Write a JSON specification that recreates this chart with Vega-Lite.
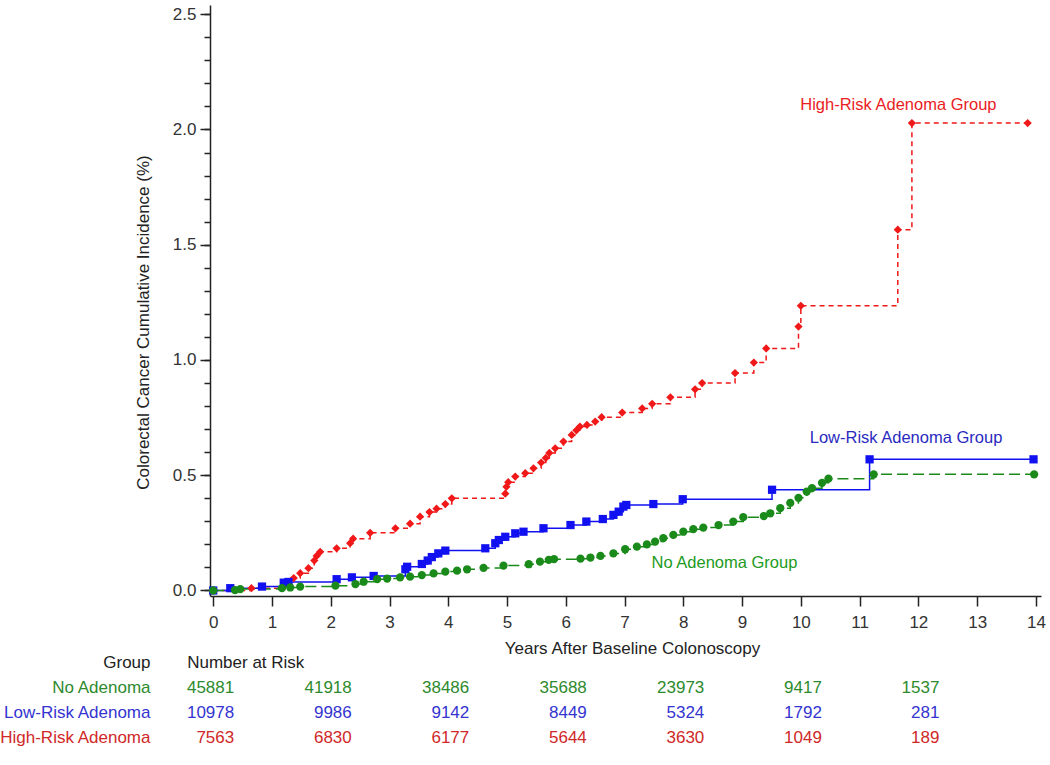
{
  "$schema": "https://vega.github.io/schema/vega-lite/v6.json",
  "width": 831,
  "height": 591,
  "autosize": "none",
  "padding": {"left": 210, "top": 5, "right": 9, "bottom": 169},
  "background": "white",
  "config": {
    "view": {"stroke": null},
    "font": "Liberation Sans",
    "axis": {
      "grid": false,
      "labelFont": "Liberation Sans",
      "labelFontSize": 17,
      "labelColor": "#333333",
      "titleFont": "Liberation Sans",
      "titleFontSize": 17,
      "titleFontWeight": "normal",
      "titleColor": "#222222",
      "domainColor": "#222222",
      "tickColor": "#222222",
      "domainWidth": 1.5,
      "tickWidth": 1.5
    },
    "text": {"font": "Liberation Sans"}
  },
  "datasets": {
    "curves": [
      {"g": "High", "t": 0, "v": 0},
      {"g": "High", "t": 0.65, "v": 0.01},
      {"g": "High", "t": 1.2, "v": 0.02},
      {"g": "High", "t": 1.25, "v": 0.03},
      {"g": "High", "t": 1.37, "v": 0.054},
      {"g": "High", "t": 1.48, "v": 0.075},
      {"g": "High", "t": 1.62, "v": 0.097},
      {"g": "High", "t": 1.72, "v": 0.13},
      {"g": "High", "t": 1.76, "v": 0.15},
      {"g": "High", "t": 1.82, "v": 0.168},
      {"g": "High", "t": 2.1, "v": 0.183},
      {"g": "High", "t": 2.33, "v": 0.205},
      {"g": "High", "t": 2.38, "v": 0.225},
      {"g": "High", "t": 2.67, "v": 0.25},
      {"g": "High", "t": 3.1, "v": 0.27},
      {"g": "High", "t": 3.35, "v": 0.29},
      {"g": "High", "t": 3.52, "v": 0.32},
      {"g": "High", "t": 3.68, "v": 0.34},
      {"g": "High", "t": 3.8, "v": 0.355},
      {"g": "High", "t": 3.95, "v": 0.375},
      {"g": "High", "t": 4.06, "v": 0.4},
      {"g": "High", "t": 4.97, "v": 0.42},
      {"g": "High", "t": 4.99, "v": 0.45},
      {"g": "High", "t": 5.02, "v": 0.47},
      {"g": "High", "t": 5.14, "v": 0.494},
      {"g": "High", "t": 5.31, "v": 0.509},
      {"g": "High", "t": 5.45, "v": 0.53},
      {"g": "High", "t": 5.58, "v": 0.555},
      {"g": "High", "t": 5.66, "v": 0.575},
      {"g": "High", "t": 5.72, "v": 0.597},
      {"g": "High", "t": 5.82, "v": 0.617},
      {"g": "High", "t": 5.96, "v": 0.646},
      {"g": "High", "t": 6.1, "v": 0.675},
      {"g": "High", "t": 6.18, "v": 0.695},
      {"g": "High", "t": 6.24, "v": 0.711},
      {"g": "High", "t": 6.36, "v": 0.718},
      {"g": "High", "t": 6.5, "v": 0.733},
      {"g": "High", "t": 6.61, "v": 0.752},
      {"g": "High", "t": 6.96, "v": 0.772},
      {"g": "High", "t": 7.3, "v": 0.79},
      {"g": "High", "t": 7.47, "v": 0.81},
      {"g": "High", "t": 7.78, "v": 0.838},
      {"g": "High", "t": 8.2, "v": 0.873},
      {"g": "High", "t": 8.32, "v": 0.9},
      {"g": "High", "t": 8.88, "v": 0.943},
      {"g": "High", "t": 9.2, "v": 0.989},
      {"g": "High", "t": 9.41, "v": 1.05},
      {"g": "High", "t": 9.96, "v": 1.145},
      {"g": "High", "t": 10.0, "v": 1.235},
      {"g": "High", "t": 11.65, "v": 1.565},
      {"g": "High", "t": 11.89, "v": 2.028},
      {"g": "High", "t": 13.86, "v": 2.028},
      {"g": "Low", "t": 0, "v": 0},
      {"g": "Low", "t": 0.29, "v": 0.01},
      {"g": "Low", "t": 0.83, "v": 0.017},
      {"g": "Low", "t": 1.2, "v": 0.034},
      {"g": "Low", "t": 1.28, "v": 0.037},
      {"g": "Low", "t": 2.1, "v": 0.049},
      {"g": "Low", "t": 2.36, "v": 0.057},
      {"g": "Low", "t": 2.73, "v": 0.063},
      {"g": "Low", "t": 3.27, "v": 0.092},
      {"g": "Low", "t": 3.3, "v": 0.103},
      {"g": "Low", "t": 3.55, "v": 0.115},
      {"g": "Low", "t": 3.65, "v": 0.13},
      {"g": "Low", "t": 3.72, "v": 0.145},
      {"g": "Low", "t": 3.83, "v": 0.161},
      {"g": "Low", "t": 3.95, "v": 0.173},
      {"g": "Low", "t": 4.63, "v": 0.183},
      {"g": "Low", "t": 4.8, "v": 0.205},
      {"g": "Low", "t": 4.86, "v": 0.219},
      {"g": "Low", "t": 4.97, "v": 0.233},
      {"g": "Low", "t": 5.14, "v": 0.248},
      {"g": "Low", "t": 5.28, "v": 0.255},
      {"g": "Low", "t": 5.62, "v": 0.27},
      {"g": "Low", "t": 6.08, "v": 0.284},
      {"g": "Low", "t": 6.35, "v": 0.299},
      {"g": "Low", "t": 6.63, "v": 0.31},
      {"g": "Low", "t": 6.81, "v": 0.328},
      {"g": "Low", "t": 6.9, "v": 0.342},
      {"g": "Low", "t": 6.98, "v": 0.364},
      {"g": "Low", "t": 7.03, "v": 0.371},
      {"g": "Low", "t": 7.49, "v": 0.375},
      {"g": "Low", "t": 7.99, "v": 0.396},
      {"g": "Low", "t": 9.51, "v": 0.437},
      {"g": "Low", "t": 11.17, "v": 0.569},
      {"g": "Low", "t": 13.96, "v": 0.569},
      {"g": "No", "t": 0, "v": 0},
      {"g": "No", "t": 0.37, "v": 0.002},
      {"g": "No", "t": 0.46, "v": 0.006},
      {"g": "No", "t": 1.17, "v": 0.01},
      {"g": "No", "t": 1.31, "v": 0.013},
      {"g": "No", "t": 1.48, "v": 0.017},
      {"g": "No", "t": 2.08, "v": 0.021},
      {"g": "No", "t": 2.42, "v": 0.028},
      {"g": "No", "t": 2.56, "v": 0.038},
      {"g": "No", "t": 2.79, "v": 0.049},
      {"g": "No", "t": 2.96, "v": 0.052},
      {"g": "No", "t": 3.18, "v": 0.057},
      {"g": "No", "t": 3.35, "v": 0.06},
      {"g": "No", "t": 3.55, "v": 0.067},
      {"g": "No", "t": 3.75, "v": 0.074},
      {"g": "No", "t": 3.95, "v": 0.082},
      {"g": "No", "t": 4.15, "v": 0.086},
      {"g": "No", "t": 4.32, "v": 0.092},
      {"g": "No", "t": 4.6, "v": 0.098},
      {"g": "No", "t": 4.94, "v": 0.108},
      {"g": "No", "t": 5.37, "v": 0.114},
      {"g": "No", "t": 5.56, "v": 0.125},
      {"g": "No", "t": 5.71, "v": 0.133},
      {"g": "No", "t": 5.8, "v": 0.136},
      {"g": "No", "t": 6.25, "v": 0.138},
      {"g": "No", "t": 6.42, "v": 0.143},
      {"g": "No", "t": 6.59, "v": 0.15},
      {"g": "No", "t": 6.81, "v": 0.161},
      {"g": "No", "t": 7.01, "v": 0.179},
      {"g": "No", "t": 7.21, "v": 0.19},
      {"g": "No", "t": 7.38, "v": 0.2},
      {"g": "No", "t": 7.52, "v": 0.212},
      {"g": "No", "t": 7.66, "v": 0.227},
      {"g": "No", "t": 7.83, "v": 0.241},
      {"g": "No", "t": 8.0, "v": 0.255},
      {"g": "No", "t": 8.17, "v": 0.266},
      {"g": "No", "t": 8.34, "v": 0.273},
      {"g": "No", "t": 8.6, "v": 0.284},
      {"g": "No", "t": 8.85, "v": 0.299},
      {"g": "No", "t": 9.02, "v": 0.318},
      {"g": "No", "t": 9.37, "v": 0.323},
      {"g": "No", "t": 9.48, "v": 0.335},
      {"g": "No", "t": 9.65, "v": 0.357},
      {"g": "No", "t": 9.82, "v": 0.38},
      {"g": "No", "t": 9.96, "v": 0.402},
      {"g": "No", "t": 10.1, "v": 0.429},
      {"g": "No", "t": 10.19, "v": 0.444},
      {"g": "No", "t": 10.36, "v": 0.467},
      {"g": "No", "t": 10.47, "v": 0.485},
      {"g": "No", "t": 11.24, "v": 0.504},
      {"g": "No", "t": 13.97, "v": 0.504}
    ],
    "curveLabels": [
      {"g": "High", "t": 11.66, "v": 2.106, "label": "High-Risk Adenoma Group"},
      {"g": "Low", "t": 11.79, "v": 0.66, "label": "Low-Risk Adenoma Group"},
      {"g": "No", "t": 8.7, "v": 0.118, "label": "No Adenoma Group"}
    ],
    "risk": [
      {"g": "No Adenoma", "yr": 0, "n": "45881"},
      {"g": "No Adenoma", "yr": 2, "n": "41918"},
      {"g": "No Adenoma", "yr": 4, "n": "38486"},
      {"g": "No Adenoma", "yr": 6, "n": "35688"},
      {"g": "No Adenoma", "yr": 8, "n": "23973"},
      {"g": "No Adenoma", "yr": 10, "n": "9417"},
      {"g": "No Adenoma", "yr": 12, "n": "1537"},
      {"g": "Low-Risk Adenoma", "yr": 0, "n": "10978"},
      {"g": "Low-Risk Adenoma", "yr": 2, "n": "9986"},
      {"g": "Low-Risk Adenoma", "yr": 4, "n": "9142"},
      {"g": "Low-Risk Adenoma", "yr": 6, "n": "8449"},
      {"g": "Low-Risk Adenoma", "yr": 8, "n": "5324"},
      {"g": "Low-Risk Adenoma", "yr": 10, "n": "1792"},
      {"g": "Low-Risk Adenoma", "yr": 12, "n": "281"},
      {"g": "High-Risk Adenoma", "yr": 0, "n": "7563"},
      {"g": "High-Risk Adenoma", "yr": 2, "n": "6830"},
      {"g": "High-Risk Adenoma", "yr": 4, "n": "6177"},
      {"g": "High-Risk Adenoma", "yr": 6, "n": "5644"},
      {"g": "High-Risk Adenoma", "yr": 8, "n": "3630"},
      {"g": "High-Risk Adenoma", "yr": 10, "n": "1049"},
      {"g": "High-Risk Adenoma", "yr": 12, "n": "189"}
    ],
    "riskHeader": [
      {"g": "Group", "yr": 0, "txt": "Number at Risk"}
    ]
  },
  "layer": [
    {
      "data": {"name": "curves"},
      "mark": {"type": "line", "interpolate": "step-after", "strokeWidth": 1.5},
      "encoding": {
        "x": {
          "field": "t", "type": "quantitative",
          "scale": {"domain": [-0.055, 14.087], "nice": false, "zero": false},
          "axis": {"orient": "bottom", "values": [0,1,2,3,4,5,6,7,8,9,10,11,12,13,14], "format": "d", "tickSize": 10, "labelPadding": 8, "title": "Years After Baseline Colonoscopy", "titlePadding": 10, "titleX": 422}
        },
        "y": {
          "field": "v", "type": "quantitative",
          "scale": {"domain": [-0.0239, 2.54], "nice": false, "zero": false},
          "axis": {
            "orient": "left",
            "values": [0, 0.5, 1, 1.5, 2, 2.5],
            "format": ".1f",
            "tickSize": 10,
            "labelPadding": 4,
            "title": "Colorectal Cancer Cumulative Incidence (%)",
            "titlePadding": 20,
            "titleY": 317
          }
        },
        "color": {
          "field": "g", "type": "nominal",
          "scale": {"domain": ["High", "Low", "No"], "range": ["#f01818", "#1010f0", "#1a8a1a"]},
          "legend": null
        },
        "strokeDash": {
          "field": "g", "type": "nominal",
          "scale": {"domain": ["High", "Low", "No"], "range": [[5, 4], [1, 0], [11, 5]]},
          "legend": null
        }
      }
    },
    {
      "data": {"name": "curves"},
      "mark": {"type": "point", "filled": true, "opacity": 1, "size": 68},
      "encoding": {
        "x": {
          "field": "t", "type": "quantitative",
          "scale": {"domain": [-0.055, 14.087], "nice": false, "zero": false},
          "axis": {"orient": "bottom", "values": [0,1,2,3,4,5,6,7,8,9,10,11,12,13,14], "format": "d", "tickSize": 10, "labelPadding": 8, "title": "Years After Baseline Colonoscopy", "titlePadding": 10, "titleX": 422}
        },
        "y": {
          "field": "v", "type": "quantitative",
          "scale": {"domain": [-0.0239, 2.54], "nice": false, "zero": false},
          "axis": {
            "orient": "left",
            "values": [0,0.1,0.2,0.3,0.4,0.5,0.6,0.7,0.8,0.9,1,1.1,1.2,1.3,1.4,1.5,1.6,1.7,1.8,1.9,2,2.1,2.2,2.3,2.4,2.5],
            "labels": false,
            "domain": false,
            "tickSize": 6,
            "title": null
          }
        },
        "color": {
          "field": "g", "type": "nominal",
          "scale": {"domain": ["High", "Low", "No"], "range": ["#f01818", "#1010f0", "#1a8a1a"]},
          "legend": null
        },
        "shape": {
          "field": "g", "type": "nominal",
          "scale": {"domain": ["High", "Low", "No"], "range": ["diamond", "square", "circle"]},
          "legend": null
        }
      }
    },
    {
      "data": {"name": "curveLabels"},
      "mark": {"type": "text", "align": "center", "baseline": "middle", "fontSize": 16.5},
      "encoding": {
        "x": {
          "field": "t", "type": "quantitative",
          "scale": {"domain": [-0.055, 14.087], "nice": false, "zero": false},
          "axis": {"orient": "bottom", "values": [0,1,2,3,4,5,6,7,8,9,10,11,12,13,14], "format": "d", "tickSize": 10, "labelPadding": 8, "title": "Years After Baseline Colonoscopy", "titlePadding": 10, "titleX": 422}
        },
        "y": {
          "field": "v", "type": "quantitative",
          "scale": {"domain": [-0.0239, 2.54], "nice": false, "zero": false},
          "axis": null
        },
        "text": {"field": "label", "type": "nominal"},
        "color": {
          "field": "g", "type": "nominal",
          "scale": {"domain": ["High", "Low", "No"], "range": ["#ea1c24", "#2a2ac0", "#229a22"]},
          "legend": null
        }
      }
    },
    {
      "data": {"name": "risk"},
      "mark": {"type": "text", "align": "right", "baseline": "middle", "dx": 21, "fontSize": 17},
      "encoding": {
        "x": {
          "field": "yr", "type": "quantitative",
          "scale": {"domain": [-0.055, 14.087], "nice": false, "zero": false},
          "axis": {"orient": "bottom", "values": [0,1,2,3,4,5,6,7,8,9,10,11,12,13,14], "format": "d", "tickSize": 10, "labelPadding": 8, "title": "Years After Baseline Colonoscopy", "titlePadding": 10, "titleX": 422}
        },
        "y": {
          "field": "g", "type": "nominal",
          "scale": {
            "type": "point",
            "domain": ["Group", "No Adenoma", "Low-Risk Adenoma", "High-Risk Adenoma"],
            "range": [657.6, 732.7],
            "padding": 0
          },
          "axis": {
            "orient": "left",
            "offset": 60,
            "domain": false,
            "ticks": false,
            "tickSize": 0,
            "labelPadding": 0,
            "labelFontSize": 17,
            "labelFont": "Liberation Sans",
            "labelColor": {"expr": "datum.value === 'No Adenoma' ? '#2e8a2e' : datum.value === 'Low-Risk Adenoma' ? '#3434d0' : datum.value === 'High-Risk Adenoma' ? '#d02828' : '#222222'"},
            "title": null
          }
        },
        "text": {"field": "n", "type": "nominal"},
        "color": {
          "field": "g", "type": "nominal",
          "scale": {
            "domain": ["Group", "No Adenoma", "Low-Risk Adenoma", "High-Risk Adenoma"],
            "range": ["#222222", "#2e8a2e", "#3434d0", "#d02828"]
          },
          "legend": null
        }
      }
    },
    {
      "data": {"name": "riskHeader"},
      "mark": {"type": "text", "align": "left", "baseline": "middle", "dx": -26, "fontSize": 17, "color": "#222222"},
      "encoding": {
        "x": {
          "field": "yr", "type": "quantitative",
          "scale": {"domain": [-0.055, 14.087], "nice": false, "zero": false},
          "axis": {"orient": "bottom", "values": [0,1,2,3,4,5,6,7,8,9,10,11,12,13,14], "format": "d", "tickSize": 10, "labelPadding": 8, "title": "Years After Baseline Colonoscopy", "titlePadding": 10, "titleX": 422}
        },
        "y": {
          "field": "g", "type": "nominal",
          "scale": {
            "type": "point",
            "domain": ["Group", "No Adenoma", "Low-Risk Adenoma", "High-Risk Adenoma"],
            "range": [657.6, 732.7],
            "padding": 0
          },
          "axis": null
        },
        "text": {"field": "txt", "type": "nominal"}
      }
    }
  ],
  "resolve": {"scale": {"y": "independent", "color": "independent"}, "axis": {"y": "independent"}}
}
